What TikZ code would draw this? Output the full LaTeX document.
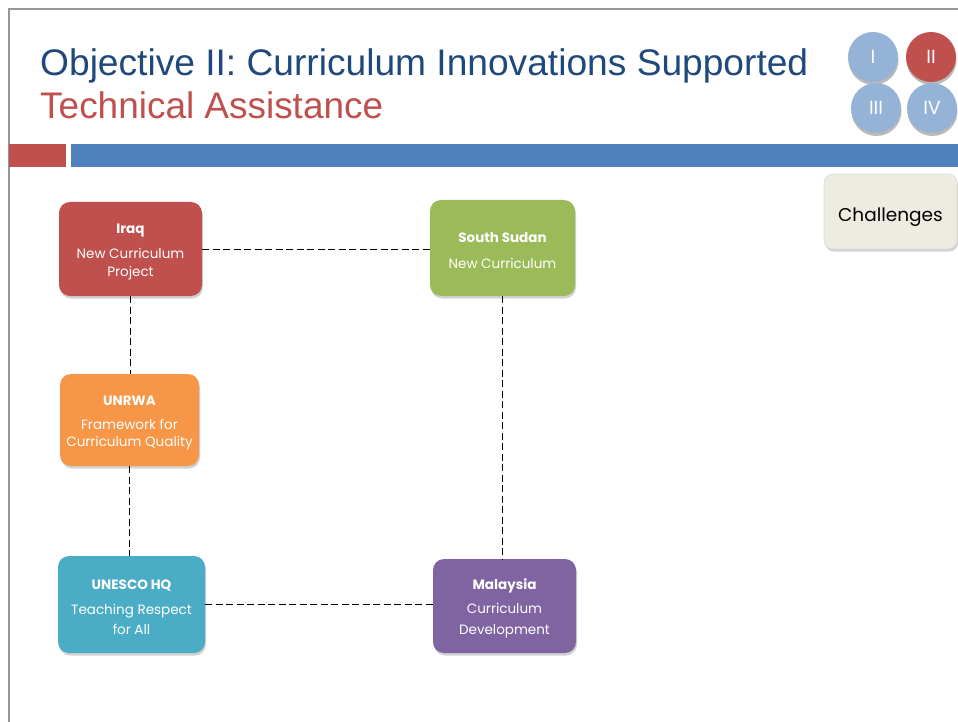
\documentclass[tikz,border=0pt]{standalone}
\usepackage{fontspec}
\usepackage{graphicx}
\setmainfont{Liberation Sans}
\newfontfamily\boxfont{Poppins}
\usetikzlibrary{shadows}
\definecolor{tblue}{RGB}{31,73,125}
\definecolor{tred}{RGB}{192,80,77}
\definecolor{lblue}{RGB}{149,179,215}
\definecolor{bblue}{RGB}{79,129,189}
\definecolor{cgreen}{RGB}{155,187,89}
\definecolor{corange}{RGB}{247,150,70}
\definecolor{ccyan}{RGB}{75,172,198}
\definecolor{cpurple}{RGB}{128,100,162}
\definecolor{cbeige}{RGB}{238,236,225}
\definecolor{frame}{RGB}{150,150,150}
\tikzset{
  cbox/.style={rounded corners=11pt, draw=none, align=center, text=white,
    font=\boxfont\fontsize{13.5}{17.5}\selectfont,
    drop shadow={opacity=0.35, shadow xshift=1pt, shadow yshift=-2.5pt}},
  badge/.style={circle, minimum size=50pt, inner sep=0pt, text=white,
    font=\boxfont\fontsize{19}{21}\selectfont,
    drop shadow={opacity=0.45, shadow xshift=0.5pt, shadow yshift=-3pt, fill=black!60}},
  link/.style={draw=black, dash pattern=on 7pt off 3.5pt, line width=0.8pt}
}
\newcommand{\bt}[1]{\rule{0pt}{15pt}{\bfseries #1}}
\begin{document}
\begin{tikzpicture}[x=1pt,y=-1pt]
\useasboundingbox (0,0) rectangle (958,722);
\fill[white] (0,0) rectangle (958,722);
% frame
\draw[frame, line width=1.5pt] (9,722) -- (9,9) -- (958,9);
% titles
\node[anchor=base west, inner sep=0pt, text=tblue, font=\fontsize{37}{40}\selectfont] (t1) at (40,76)
  {\resizebox{768pt}{\height}{Objective II: Curriculum Innovations Supported}};
\node[anchor=base west, inner sep=0pt, text=tred, font=\fontsize{37}{40}\selectfont] (t2) at (40,119)
  {\resizebox{343pt}{\height}{Technical Assistance}};
% badges
\node[badge, fill=lblue] (b1) at (873,57) {I};
\node[badge, fill=tred] (b2) at (931,57) {II};
\node[badge, fill=lblue] (b3) at (876,108) {III};
\node[badge, fill=lblue] (b4) at (932,108) {IV};
% bars
\fill[tred] (9,144) rectangle (66,167);
\fill[bblue] (71,144) rectangle (958,167);
% boxes
\node[cbox, fill=tred, minimum width=143pt, minimum height=94pt] (iraq) at (130.5,249)
  {\bt{Iraq}\\[8pt]New Curriculum\\[0pt]Project};
\node[cbox, fill=cgreen, minimum width=145pt, minimum height=96pt] (sudan) at (502.5,248)
  {\bt{South Sudan}\\[9pt]New Curriculum};
\node[cbox, fill=corange, minimum width=139pt, minimum height=92pt] (unrwa) at (129.5,420)
  {\bt{UNRWA}\\[7pt]Framework for\\[-1pt]Curriculum Quality};
\node[cbox, fill=ccyan, minimum width=147pt, minimum height=97pt] (unesco) at (131.5,604.5)
  {\bt{UNESCO HQ}\\[8pt]Teaching Respect\\[2pt]for All};
\node[cbox, fill=cpurple, minimum width=143pt, minimum height=94pt] (malay) at (504.5,606)
  {\bt{Malaysia}\\[7pt]Curriculum\\[3pt]Development};
\node[cbox, fill=cbeige, text=black, rounded corners=9pt, minimum width=133pt, minimum height=75pt,
  font=\boxfont\fontsize{18.5}{20}\selectfont, draw=black!15, line width=0.6pt] (chal) at (890.5,211.5)
  {\raisebox{-10pt}[0pt][0pt]{Challenges}};
% connectors
\draw[link] (iraq.east) -- (sudan.west |- iraq.east);
\draw[link] (iraq.south) -- (unrwa.north -| iraq.south);
\draw[link] (unrwa.south) -- (unesco.north -| unrwa.south);
\draw[link] (sudan.south) -- (malay.north -| sudan.south);
\draw[link] (unesco.east) -- (malay.west |- unesco.east);
\end{tikzpicture}
\end{document}
